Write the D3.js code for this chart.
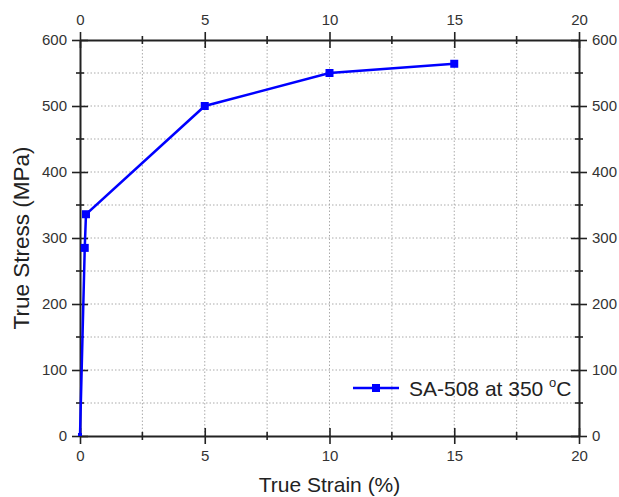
<!DOCTYPE html>
<html><head><meta charset="utf-8">
<script src="https://cdn.jsdelivr.net/npm/d3@7"></script>
<style>body{margin:0;background:#fff;} svg{display:block;}</style>
</head><body>
<script>
const strain = [0, 0.19, 0.24, 5, 10, 15];
const stress = [0, 285, 336, 500, 550, 564];
const xTicks = [0, 5, 10, 15, 20];
const yTicks = [0, 100, 200, 300, 400, 500, 600];
const seriesName = "SA-508 at 350 ";

const W = 619, H = 497;
const m = {l: 80, r: 40, t: 40, b: 61};
const svg = d3.select("body").append("svg").attr("width", W).attr("height", H);
const x = d3.scaleLinear().domain([0, 20]).range([m.l, W - m.r]);
const y = d3.scaleLinear().domain([0, 600]).range([H - m.b, m.t]);
const font = "Liberation Sans, Arial, sans-serif";

// grid
const xGrid = d3.range(2.5, 20, 2.5), yGrid = d3.range(50, 600, 50);
svg.append("g").selectAll("line").data(xGrid).join("line")
  .attr("x1", d => x(d)).attr("x2", d => x(d)).attr("y1", y(0)).attr("y2", y(600))
  .attr("stroke", "#aaa").attr("stroke-width", 1).attr("stroke-dasharray", "1.5,2");
svg.append("g").selectAll("line").data(yGrid).join("line")
  .attr("y1", d => y(d)).attr("y2", d => y(d)).attr("x1", x(0)).attr("x2", x(20))
  .attr("stroke", "#aaa").attr("stroke-width", 1).attr("stroke-dasharray", "1.5,2");

// axes
function styleAxis(g) {
  g.select(".domain").attr("stroke", "#222").attr("stroke-width", 2);
  g.selectAll(".tick line").attr("stroke", "#222").attr("stroke-width", 1.6);
  g.selectAll(".tick text").attr("fill", "#333").style("font-family", font).style("font-size", "15px");
}
const majLen = 8, minLen = 4;
const axB = d3.axisBottom(x).tickValues(xTicks).tickSize(majLen).tickSizeOuter(0).tickPadding(6);
const axT = d3.axisTop(x).tickValues(xTicks).tickSize(majLen).tickSizeOuter(0).tickPadding(6);
const axL = d3.axisLeft(y).tickValues(yTicks).tickSize(majLen).tickSizeOuter(0).tickPadding(5);
const axR = d3.axisRight(y).tickValues(yTicks).tickSize(majLen).tickSizeOuter(0).tickPadding(5);

const gB = svg.append("g").attr("transform", `translate(0,${y(0)})`).call(axB).call(styleAxis);
const gT = svg.append("g").attr("transform", `translate(0,${y(600)})`).call(axT).call(styleAxis);
const gL = svg.append("g").attr("transform", `translate(${x(0)},0)`).call(axL).call(styleAxis);
const gR = svg.append("g").attr("transform", `translate(${x(20)},0)`).call(axR).call(styleAxis);
gB.selectAll(".tick line").attr("y1", -majLen);
gT.selectAll(".tick line").attr("y1", majLen);
gL.selectAll(".tick line").attr("x1", majLen);
gR.selectAll(".tick line").attr("x1", -majLen);
gB.selectAll(".tick text").attr("y", majLen + 6);
gT.selectAll(".tick text").attr("y", -majLen - 7);
// minor ticks
const xMinor = d3.range(2.5, 20, 5), yMinor = d3.range(50, 600, 100);
[y(0), y(600)].forEach(yy => {
  svg.append("g").selectAll("line").data(xMinor).join("line")
    .attr("x1", d => x(d)).attr("x2", d => x(d)).attr("y1", yy - minLen).attr("y2", yy + minLen)
    .attr("stroke", "#222").attr("stroke-width", 1.6);
});
[x(0), x(20)].forEach(xx => {
  svg.append("g").selectAll("line").data(yMinor).join("line")
    .attr("y1", d => y(d)).attr("y2", d => y(d)).attr("x1", xx - minLen).attr("x2", xx + minLen)
    .attr("stroke", "#222").attr("stroke-width", 1.6);
});

// data
const pts = strain.map((s, i) => [s, stress[i]]);
svg.append("path").datum(pts)
  .attr("d", d3.line().x(d => x(d[0])).y(d => y(d[1])))
  .attr("fill", "none").attr("stroke", "#0000ff").attr("stroke-width", 2.5);
const ms = 8;
svg.append("g").selectAll("rect").data(pts).join("rect")
  .attr("x", d => x(d[0]) - (d[1] === 0 ? 2 : ms / 2))
  .attr("y", d => y(d[1]) - (d[1] === 0 ? 3 : ms / 2))
  .attr("width", d => d[1] === 0 ? 4 : ms).attr("height", d => d[1] === 0 ? 3 : ms)
  .attr("fill", "#0000ff");

// axis titles
svg.append("text").attr("x", (x(0) + x(20)) / 2).attr("y", 492).attr("text-anchor", "middle")
  .style("font-family", font).style("font-size", "21px").attr("fill", "#222").text("True Strain (%)");
svg.append("text").attr("transform", `translate(29,${(y(0) + y(600)) / 2}) rotate(-90)`)
  .attr("text-anchor", "middle")
  .style("font-family", font).style("font-size", "22.5px").attr("fill", "#222").text("True Stress (MPa)");

// legend
const ly = 388;
svg.append("line").attr("x1", 353).attr("x2", 399).attr("y1", ly).attr("y2", ly)
  .attr("stroke", "#0000ff").attr("stroke-width", 2.5);
svg.append("rect").attr("x", 376 - ms / 2).attr("y", ly - ms / 2).attr("width", ms).attr("height", ms).attr("fill", "#0000ff");
const lt = svg.append("text").attr("x", 409).attr("y", ly + 8)
  .style("font-family", font).style("font-size", "21px").attr("fill", "#222");
lt.append("tspan").text(seriesName);
lt.append("tspan").attr("dy", -9).style("font-size", "13px").text("o");
lt.append("tspan").attr("dy", 9).text("C");
</script>
</body></html>
